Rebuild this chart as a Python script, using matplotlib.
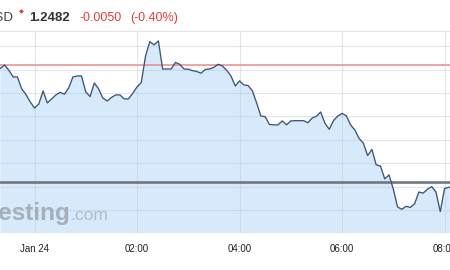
import numpy as np
import matplotlib
matplotlib.use("Agg")
import matplotlib.pyplot as plt

# 5-minute closes, Jan 23 23:20 -> Jan 24 08:10
start = np.datetime64("2018-01-23T23:20")
prices = [
    1.25306, 1.25320, 1.25297, 1.25269, 1.25269, 1.25218, 1.25194, 1.25162,
    1.25136, 1.25153, 1.25209, 1.25158, 1.25175, 1.25192, 1.25203, 1.25195,
    1.25222, 1.25269, 1.25273, 1.25273, 1.25205, 1.25185, 1.25243, 1.25218,
    1.25179, 1.25166, 1.25181, 1.25192, 1.25192, 1.25175, 1.25175, 1.25199,
    1.25226, 1.25245, 1.25359, 1.25420, 1.25406, 1.25423, 1.25303, 1.25303,
    1.25303, 1.25331, 1.25323, 1.25303, 1.25302, 1.25296, 1.25292, 1.25285,
    1.25301, 1.25303, 1.25310, 1.25323, 1.25316, 1.25297, 1.25273, 1.25230,
    1.25252, 1.25235, 1.25232, 1.25210, 1.25158, 1.25102, 1.25099, 1.25066,
    1.25064, 1.25064, 1.25081, 1.25064, 1.25081, 1.25082, 1.25082, 1.25082,
    1.25073, 1.25093, 1.25101, 1.25119, 1.25071, 1.25045, 1.25082, 1.25102,
    1.25113, 1.25103, 1.25064, 1.25042, 1.25006, 1.24985, 1.24933, 1.24959,
    1.24893, 1.24888, 1.24833, 1.24850, 1.24790, 1.24713, 1.24703, 1.24716,
    1.24711, 1.24727, 1.24777, 1.24772, 1.24789, 1.24800, 1.24777, 1.24693,
    1.24792, 1.24797, 1.24799,
]
times = start + np.arange(len(prices)) * np.timedelta64(5, "m")

prev_close = 1.2532
last_line = 1.2482
tick_times = np.array(["2018-01-24T00:00", "2018-01-24T02:00", "2018-01-24T04:00",
                       "2018-01-24T06:00", "2018-01-24T08:00"], dtype="datetime64[m]")
tick_labels = ["Jan 24", "02:00", "04:00", "06:00", "08:00"]
y_grid = [1.246, 1.247, 1.248, 1.249, 1.250, 1.251, 1.252, 1.253, 1.254]

W, H = 450, 270
fig = plt.figure(figsize=(4.5, 2.7), dpi=100)
fig.patch.set_facecolor("white")

ax_bot = 233.4
ax_top = 31
ax = fig.add_axes([0, 1 - ax_bot / H, 1, (ax_bot - ax_top) / H])

t = times.astype("datetime64[m]").astype("O")
ax.fill_between(t, prices, 1.240, color="#d6eafb", zorder=1, linewidth=0)
ax.plot(t, prices, color="#3d5474", linewidth=0.95, zorder=4)
ax.axhline(prev_close, color="#e88c8c", linewidth=1.1, zorder=3)
ax.axhline(last_line, color="#70777f", linewidth=1.9, zorder=3)

ax.set_ylim(1.246, 1.2482 + 151 / 23400)
x0 = np.datetime64("2018-01-24T00:00") - np.timedelta64(2424, "s")
x1 = np.datetime64("2018-01-24T00:00") + np.timedelta64(29184, "s")
ax.set_xlim(x0.astype("O"), x1.astype("O"))

ax.set_yticks(y_grid)
ax.set_xticks(tick_times.astype("O"))
ax.set_xticklabels(tick_labels, fontsize=7, color="#222222",
                   family="Liberation Sans")
ax.tick_params(axis="x", length=0, pad=7.5)
ax.tick_params(axis="y", length=0, labelleft=False)
ax.grid(True, color="#b8c4d0", alpha=0.4, linewidth=0.8, zorder=2)
ax.set_axisbelow(False)
for s in ax.spines.values():
    s.set_visible(False)

# watermark, left part cut by the frame
fig.text(70 / W, 1 - 220 / H, "Investing", ha="right", va="baseline",
         fontsize=17.5, fontweight="bold", color="#a4afba",
         family="Liberation Sans", zorder=2)
fig.text(70.5 / W, 1 - 220 / H, ".com", ha="left", va="baseline",
         fontsize=12.5, color="#b3bdc7", family="Liberation Sans", zorder=2)

# header
fig.add_artist(plt.Line2D([0, 1], [1 - 31 / H, 1 - 31 / H], color="#e2e4e7",
                          linewidth=0.8))
fig.text(13.5 / W, 1 - 21 / H, "USD", ha="right", va="baseline", fontsize=9.5,
         color="#444444", family="Liberation Sans")
fig.text(21 / W, 1 - 12 / H, "\u25c6", ha="center", va="center", fontsize=4.5,
         color="#e53b3b", family="DejaVu Sans")
fig.text(29 / W, 1 - 21 / H, "1.2482", ha="left", va="baseline", fontsize=9.5,
         fontweight="bold", color="#333333", family="Liberation Sans")
fig.text(80 / W, 1 - 21 / H, "-0.0050", ha="left", va="baseline", fontsize=9,
         color="#e63c3c", family="Liberation Sans")
fig.text(130 / W, 1 - 21 / H, "(-0.40%)", ha="left", va="baseline", fontsize=9,
         color="#e63c3c", family="Liberation Sans")

fig.savefig("out.png", dpi=100)
